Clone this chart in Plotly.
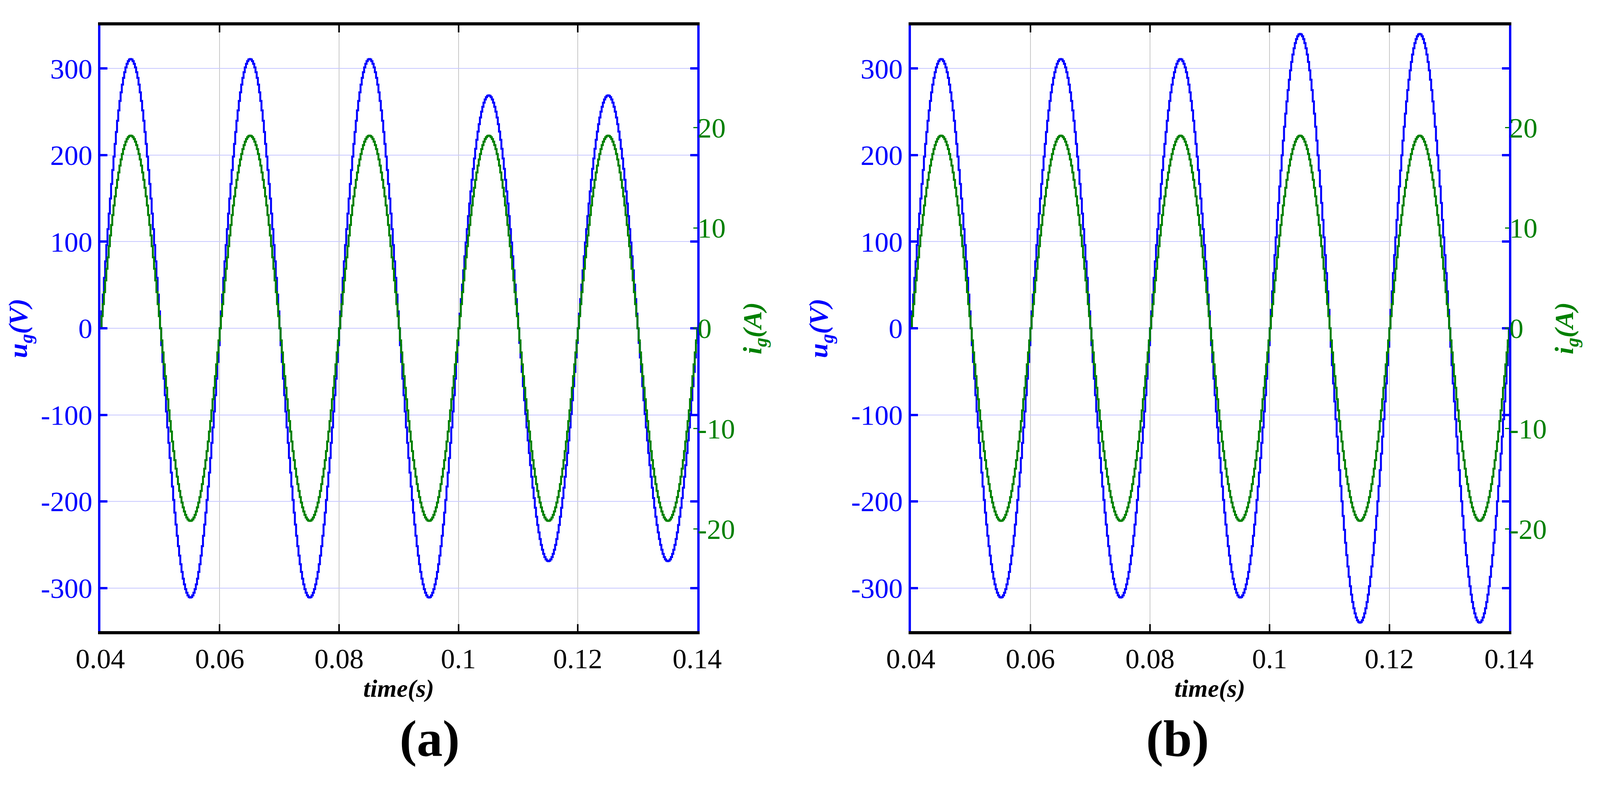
import numpy as np
import plotly.graph_objects as go

# 采样时间（s）
t_start, t_end, dt = 0.04, 0.14, 0.0002
time = np.arange(t_start, t_end + dt / 2, dt)

# 每个半周期的峰值，半周期 10 ms，自 0.04 s 开始
half_cycle_starts = [0.04, 0.05, 0.06, 0.07, 0.08, 0.09, 0.10, 0.11, 0.12, 0.13]
ug_peaks_a = [311, 311, 311, 311, 311, 311, 269, 269, 269, 269]
ug_peaks_b = [311, 311, 311, 311, 311, 311, 340, 340, 340, 340]
ig_peaks_a = [19.2, 19.2, 19.2, 19.2, 19.2, 19.2, 19.2, 19.2, 19.2, 19.2]
ig_peaks_b = [19.2, 19.2, 19.2, 19.2, 19.2, 19.2, 19.2, 19.2, 19.2, 19.2]

x_ticks = [0.04, 0.06, 0.08, 0.1, 0.12, 0.14]
x_tick_text = ['0.04', '0.06', '0.08', '0.1', '0.12', '0.14']
u_ticks = [-300, -200, -100, 0, 100, 200, 300]
u_tick_text = ['-300', '-200', '-100', '0', '100', '200', '300']
i_ticks = [-20, -10, 0, 10, 20]
i_tick_text = ['-20', '-10', '0', '10', '20']
panel_labels = ['(a)', '(b)']


def waveform(peaks):
    idx = np.clip(np.searchsorted(half_cycle_starts, time, side='right') - 1, 0, len(peaks) - 1)
    amp = np.array(peaks)[idx]
    return amp * np.sin(2 * np.pi * 50 * (time - t_start))


BLUE = '#0000ff'
GREEN = '#008000'
FONT = 'Liberation Serif'

fig = go.Figure()

panels = [
    (ug_peaks_a, ig_peaks_a, [0.047, 0.4334]),
    (ug_peaks_b, ig_peaks_b, [0.5717, 0.959]),
]

for k, (ug, ig, dom) in enumerate(panels):
    xa = 'x' if k == 0 else 'x2'
    ya_u = 'y' if k == 0 else 'y3'
    ya_i = 'y2' if k == 0 else 'y4'
    fig.add_trace(go.Scatter(x=time, y=waveform(ug), mode='lines', line=dict(color=BLUE, width=5, shape='hv'),
                             xaxis=xa, yaxis=ya_u, showlegend=False))
    fig.add_trace(go.Scatter(x=time, y=waveform(ig), mode='lines', line=dict(color=GREEN, width=5, shape='hv'),
                             xaxis=xa, yaxis=ya_i, showlegend=False))

    xkey = 'xaxis' if k == 0 else 'xaxis2'
    ukey = 'yaxis' if k == 0 else 'yaxis3'
    ikey = 'yaxis2' if k == 0 else 'yaxis4'
    fig.layout[xkey] = dict(
        domain=dom, anchor=ya_u, range=[0.04, 0.14], tickvals=x_ticks, ticktext=x_tick_text,
        ticks='inside', ticklen=18, tickwidth=4, tickcolor='black', showline=True, linecolor='black',
        linewidth=8, mirror='ticks', showgrid=True, gridcolor='#c8c8c8', gridwidth=2, zeroline=False,
        tickfont=dict(family=FONT, size=72, color='black'),
        title=dict(text='<b><i>time(s)</i></b>', font=dict(family=FONT, size=64, color='black'), standoff=4),
    )
    fig.layout[ukey] = dict(
        domain=[0.2155, 0.9724], anchor=xa, range=[-350, 350], tickvals=u_ticks, ticktext=u_tick_text,
        ticks='inside', ticklen=18, tickwidth=6, tickcolor=BLUE, showline=True, linecolor=BLUE,
        linewidth=6, mirror='ticks', showgrid=True, gridcolor='#c8c8ff', gridwidth=2, zeroline=False,
        tickfont=dict(family=FONT, size=72, color=BLUE),
        title=dict(text='<b><i>u<sub>g</sub>(V)</i></b>', font=dict(family=FONT, size=68, color=BLUE), standoff=40),
    )
    fig.layout[ikey] = dict(
        overlaying=ya_u, anchor=xa, side='right', range=[-30.2, 30.2], tickvals=i_ticks, ticktext=i_tick_text,
        ticks='inside', ticklen=10, tickwidth=3, tickcolor=GREEN, showline=False, showgrid=False, zeroline=False,
        tickfont=dict(family=FONT, size=72, color=GREEN),
        title=dict(text='<b><i>i<sub>g</sub>(A)</i></b>', font=dict(family=FONT, size=68, color=GREEN), standoff=20),
    )
    fig.add_annotation(text='<b>' + panel_labels[k] + '</b>', x=(dom[0] + dom[1]) / 2, y=0.045,
                       xref='paper', yref='paper', showarrow=False,
                       font=dict(family=FONT, size=132, color='black'))

fig.update_layout(autosize=True, margin=dict(l=0, r=0, t=0, b=0),
                  paper_bgcolor='white', plot_bgcolor='white')

fig.write_html("out.html", default_width="100%", default_height="100%")
